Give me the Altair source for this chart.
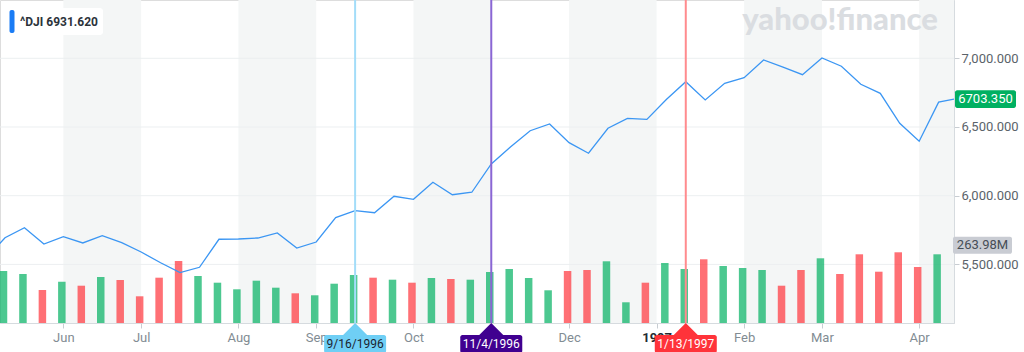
import altair as alt
import pandas as pd

# ---- data (weekly, index 0 = week of 1996-05-13) ----
close = [5694, 5767, 5648, 5702, 5656, 5709, 5658, 5590, 5512, 5440,
         5479, 5683, 5685, 5692, 5729, 5619, 5663, 5841, 5891, 5876,
         5996, 5974, 6098, 6007, 6025, 6231, 6357, 6473, 6522, 6386,
         6309, 6491, 6563, 6555, 6700, 6830, 6697, 6818, 6859, 6988,
         6935, 6881, 7002, 6942, 6811, 6745, 6527, 6396, 6681]
volume_m = [199.8, 188.3, 126.8, 158.7, 143.3, 176.8, 165.2, 102.6, 174.1, 238.3,
            180.6, 154.9, 129.5, 162.6, 135.7, 114.1, 106.5, 151.0, 184.5, 174.1,
            166.4, 154.9, 172.9, 169.1, 166.4, 196.0, 207.5, 172.9, 125.7, 199.8,
            203.7, 237.1, 79.6, 154.9, 230.6, 207.5, 244.8, 219.1, 211.4, 203.7,
            143.3, 203.7, 248.6, 188.3, 264.0, 197.1, 271.7, 215.2, 263.98]
prev_close = 5536.0
last_price = 6703.35
last_volume_label = "263.98M"
last_price_label = "6703.350"
header_label = "^DJI 6931.620"

x_min, x_max = -0.257, 48.79
price_domain = [5073.5, 7424.3]
volume_domain = [0, 1241.1]

month_pos = [3, 7, 12, 16, 21, 29, 33.5, 38, 42, 47]
month_lbl = ["Jun", "Jul", "Aug", "Sep", "Oct", "Dec", "1997", "Feb", "Mar", "Apr"]
band_start = [3, 12, 21, 29, 38, 47]
band_end = [7, 16, 25, 33.5, 42, x_max]
price_ticks = [5500, 6000, 6500, 7000]

event_idx = [18, 25, 35]
event_lbl = ["9/16/1996", "11/4/1996", "1/13/1997"]
event_line = ["#a3ddf9", "#8a66d4", "#ff8b8e"]
event_fill = ["#6fcff5", "#400090", "#ff333a"]
event_text = ["#1b2430", "#ffffff", "#ffffff"]

GREEN = "#00b061"
RED = "#ff333a"
LINE = "#3b96f3"
W, H = 954, 323
FONT = "Roboto"

# ---- tables ----
n = len(close)
prevs = [prev_close] + close[:-1]
weekly = pd.DataFrame({
    "i": list(range(n)),
    "vol": volume_m,
    "dir": ["up" if c >= p else "down" for c, p in zip(close, prevs)],
})
line_df = pd.DataFrame({
    "i": [-1] + list(range(n)) + [x_max],
    "close": [prev_close] + close + [last_price],
})
bands = pd.DataFrame({"i": band_start, "i1": band_end})
grid_df = pd.DataFrame({"p": price_ticks})
events = pd.DataFrame({"i": event_idx, "lbl": event_lbl, "lc": event_line,
                       "fc": event_fill, "tc": event_text})
last_df = pd.DataFrame({"close": [last_price], "vol": [volume_m[-1]],
                        "pl": [last_price_label], "vl": [last_volume_label]})
one = pd.DataFrame({"t": [header_label], "w": ["yahoo!finance"]})

label_expr = " : ".join(f"datum.value == {p} ? '{l}'" for p, l in zip(month_pos, month_lbl)) + " : ''"
xscale = alt.Scale(domain=[x_min, x_max], nice=False, zero=False, padding=0)
xaxis = alt.Axis(values=month_pos, labelExpr=label_expr, grid=False, title=None,
                 domainColor="#d6dbdf", tickColor="#c8cdd2", tickSize=5,
                 labelFontSize=13, labelFont=FONT, labelPadding=3,
                 labelColor={"condition": {"test": "datum.value == 33.5", "value": "#232a31"},
                             "value": "#828c93"},
                 labelFontWeight={"condition": {"test": "datum.value == 33.5", "value": "bold"},
                                  "value": "normal"})

def X(field="i"):
    return alt.X(f"{field}:Q", scale=xscale, axis=xaxis, title=None)

pscale = alt.Scale(domain=price_domain, nice=False, zero=False, padding=0)
vscale = alt.Scale(domain=volume_domain, nice=False, zero=True, padding=0)

box_path = ("M-0.93,-0.29L0.93,-0.29A0.07,0.07 0 0 1 1,-0.22L1,0.22"
            "A0.07,0.07 0 0 1 0.93,0.29L-0.93,0.29A0.07,0.07 0 0 1 -1,0.22"
            "L-1,-0.22A0.07,0.07 0 0 1 -0.93,-0.29Z")
tri_path = "M0,0L1,1L-1,1Z"

band_layer = alt.Chart(bands).mark_rect(color="#f4f6f6", clip=True).encode(
    x=X(), x2="i1:Q", y=alt.value(0), y2=alt.value(H))

grid_layer = alt.Chart(grid_df).mark_rule(color="#eceff1", strokeWidth=1).encode(
    y=alt.Y("p:Q", scale=pscale, axis=None))

bar_layer = alt.Chart(weekly).mark_bar(size=7.5, opacity=0.7, xOffset=-1.5).encode(
    x=X(),
    y=alt.Y("vol:Q", scale=vscale, axis=None),
    color=alt.Color("dir:N", scale=alt.Scale(domain=["up", "down"], range=[GREEN, RED]), legend=None))

line_layer = alt.Chart(line_df).mark_line(color=LINE, strokeWidth=1.3, clip=True).encode(
    x=X(),
    y=alt.Y("close:Q", scale=pscale, title=None,
            axis=alt.Axis(orient="right", values=price_ticks, format=",.3f", grid=False,
                          domainColor="#d6dbdf", tickColor="#c8cdd2", tickSize=5,
                          labelFontSize=13, labelFont=FONT, labelColor="#5b636a",
                          labelPadding=2)))

rule_layer = alt.Chart(events).mark_rule(strokeWidth=2).encode(
    x=X(), color=alt.Color("lc:N", scale=None))

tri_layer = alt.Chart(events).mark_point(shape=tri_path, size=576, filled=True,
                                         opacity=1, strokeWidth=0).encode(
    x=X(), y=alt.value(H), color=alt.Color("fc:N", scale=None))

box_layer = alt.Chart(events).mark_point(shape=box_path, size=3844, filled=True,
                                         opacity=1, strokeWidth=0).encode(
    x=X(), y=alt.value(344), color=alt.Color("fc:N", scale=None))

evtext_layer = alt.Chart(events).mark_text(fontSize=12, font=FONT, baseline="middle").encode(
    x=X(), y=alt.value(344), text="lbl:N", color=alt.Color("tc:N", scale=None))

pbox = alt.Chart(last_df).mark_point(shape=box_path, size=3721, filled=True, opacity=1,
                                     strokeWidth=0, color=GREEN).encode(
    x=alt.value(985.5), y=alt.Y("close:Q", scale=pscale, axis=None))
ptext = alt.Chart(last_df).mark_text(fontSize=13, font=FONT, color="white", baseline="middle").encode(
    x=alt.value(985.5), y=alt.Y("close:Q", scale=pscale, axis=None), text="pl:N")

vbox = alt.Chart(last_df).mark_point(shape=box_path, size=3481, filled=True, opacity=1,
                                     strokeWidth=0, color="#c9ccd3", yOffset=-9).encode(
    x=alt.value(982.5), y=alt.Y("vol:Q", scale=vscale, axis=None))
vtext = alt.Chart(last_df).mark_text(fontSize=13, font=FONT, color="#464e56", baseline="middle",
                                     yOffset=-9).encode(
    x=alt.value(982.5), y=alt.Y("vol:Q", scale=vscale, axis=None), text="vl:N")

watermark = alt.Chart(one).mark_text(fontSize=31, font="Lato", fontWeight=900, color="#dadde1",
                                     baseline="middle").encode(
    x=alt.value(840), y=alt.value(21), text="w:N")

hdr_box = alt.Chart(one).mark_rect(color="white", cornerRadius=3).encode(
    x=alt.value(7), x2=alt.value(103), y=alt.value(8), y2=alt.value(35))
hdr_bar = alt.Chart(one).mark_rect(color="#1a7cf5", cornerRadius=2).encode(
    x=alt.value(9.5), x2=alt.value(14.5), y=alt.value(10), y2=alt.value(33))
hdr_text = alt.Chart(one).mark_text(fontSize=12, font=FONT, fontWeight="bold", color="#2c333a",
                                    align="left", baseline="middle").encode(
    x=alt.value(20), y=alt.value(22), text="t:N")

chart = alt.layer(
    band_layer, grid_layer, watermark, bar_layer, line_layer, rule_layer,
    tri_layer, box_layer, evtext_layer, pbox, ptext, vbox, vtext,
    hdr_box, hdr_bar, hdr_text,
).resolve_scale(y="independent").properties(
    width=W, height=H, autosize=alt.AutoSizeParams(type="none"),
    padding={"left": 0, "top": 0, "right": 70, "bottom": 29},
).configure_view(stroke=None).configure(font=FONT)

chart.save("out.html", embed_options={"renderer": "svg", "actions": False})
